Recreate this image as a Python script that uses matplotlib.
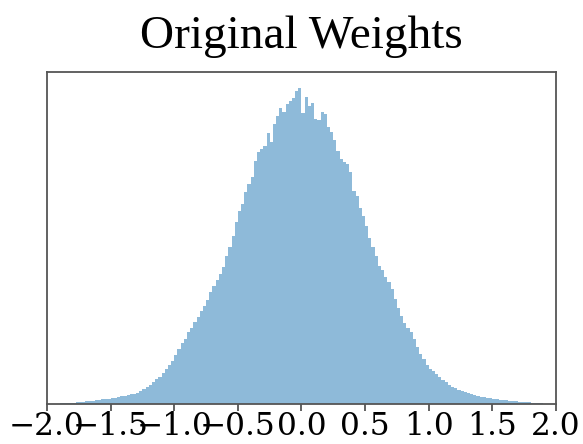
import numpy as np
import matplotlib
matplotlib.use("Agg")
import matplotlib.pyplot as plt

# histogram of weights, counts (arbitrary units)
bin_edges = np.linspace(-1.9, 1.9, 153)
counts = [
    0.5, 1, 1, 0.5, 1, 1.5, 2, 2, 2.5, 3,
    3, 3.5, 4, 4.5, 5, 5, 6, 6, 7, 8,
    8, 9, 10, 10, 11, 13, 15, 17, 19, 22,
    25, 27, 31, 35, 39, 43, 49, 55, 61, 65,
    72, 76, 82, 87, 93, 98, 104, 112, 118, 124,
    130, 137, 148, 157, 168, 182, 193, 200, 212, 220,
    227, 243, 252, 255, 258, 271, 262, 280, 288, 296,
    292, 300, 303, 306, 313, 316, 291, 307, 298, 301,
    285, 284, 292, 290, 277, 272, 264, 253, 245, 242,
    240, 232, 213, 208, 196, 188, 178, 166, 157, 148,
    138, 134, 127, 122, 115, 105, 96, 88, 81, 76,
    72, 65, 57, 50, 45, 39, 35, 33, 30, 27,
    24, 22, 19, 17, 16, 14, 13, 12, 11, 10,
    9, 8, 7, 7, 6, 6, 5, 5, 4, 4,
    3.5, 3, 3, 2.5, 2, 2, 1.5, 1.5, 1, 1,
    0.5, 0.5,
]
xticks = [-2.0, -1.5, -1.0, -0.5, 0.0, 0.5, 1.0, 1.5, 2.0]

bin_centers = (bin_edges[:-1] + bin_edges[1:]) / 2

fig = plt.figure(figsize=(5.83, 4.44), dpi=100)
ax = fig.add_axes([0.0806, 0.0901, 0.8731, 0.7477])
ax.hist(bin_centers, bins=bin_edges, weights=counts, alpha=0.5)

ax.set_xlim(-2.0, 2.0)
ax.set_xticks(xticks)
ax.set_xticklabels(["\u2212%.1f" % abs(t) if t < 0 else "%.1f" % t for t in xticks],
                   family="DejaVu Serif", fontsize=22.5)
ax.set_yticks([])
for s in ax.spines.values():
    s.set_color("#555555")
    s.set_linewidth(1.3)
ax.tick_params(axis="x", color="#555555", width=1.3, length=5, pad=0)

ax.set_title("Original Weights", family="Liberation Serif", fontsize=34, pad=17)

fig.savefig("out.png", dpi=100)
